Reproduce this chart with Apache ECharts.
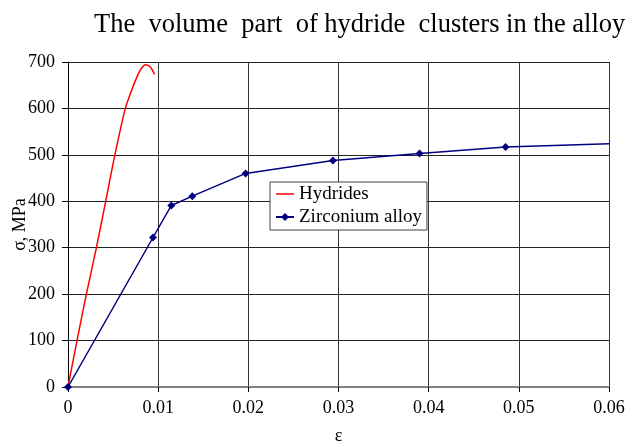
<!DOCTYPE html>
<html>
<head>
<meta charset="utf-8">
<script src="https://cdn.jsdelivr.net/npm/echarts@6/dist/echarts.min.js"></script>
<style>
html,body{margin:0;padding:0;background:#fff;}
#chart{width:627px;height:441px;}
</style>
</head>
<body>
<div id="chart"></div>
<script>
var titleText = "The  volume  part  of hydride  clusters in the alloy";
var xName = "\u03b5";
var yName = "\u03c3, MPa";
var seriesNames = ["Hydrides", "Zirconium alloy"];

var hydrideStrain = [0, 0.001, 0.00204, 0.00315, 0.00418, 0.0052, 0.00636, 0.00692, 0.00765, 0.00813, 0.00861, 0.00913, 0.0096];
var hydrideStress = [0, 100, 200, 300, 400, 500, 600, 632, 668, 686, 694, 689, 673];

var alloyStrain = [0, 0.00943, 0.01146, 0.01379, 0.0197, 0.02938, 0.03899, 0.04853, 0.06];
var alloyStress = [0, 322, 391, 411, 460, 488, 503, 517, 524];

var FONT = "'Liberation Serif', 'Times New Roman', serif";

function pairs(xs, ys) {
  return xs.map(function (x, i) { return [x, ys[i]]; });
}

var alloyData = pairs(alloyStrain, alloyStress).map(function (p, i, arr) {
  if (i === arr.length - 1) return { value: p, symbol: 'none' };
  return p;
});

var chart = echarts.init(document.getElementById('chart'));
chart.setOption({
  animation: false,
  backgroundColor: '#fff',
  textStyle: { fontFamily: FONT },
  title: {
    text: titleText,
    left: 89,
    top: 7,
    textStyle: { fontFamily: FONT, fontSize: 26.5, fontWeight: 'normal', color: '#000' }
  },
  legend: {
    orient: 'vertical',
    left: 270,
    top: 182,
    padding: [2, 5, 3, 5],
    itemGap: 3,
    itemWidth: 18,
    itemHeight: 10,
    backgroundColor: '#fff',
    borderColor: '#404040',
    borderWidth: 1,
    borderRadius: 0,
    data: [
      { name: seriesNames[0], icon: 'path://M0 0H12V1H0Z' },
      { name: seriesNames[1] }
    ],
    textStyle: { fontFamily: FONT, fontSize: 19, color: '#000', lineHeight: 20 }
  },
  grid: { left: 68, right: 18, top: 62, bottom: 54, containLabel: false, outerBoundsMode: 'none' },
  xAxis: {
    type: 'value',
    min: 0,
    max: 0.06,
    interval: 0.01,
    name: xName,
    nameLocation: 'middle',
    nameGap: 40,
    nameMoveOverlap: false,
    nameTextStyle: { fontFamily: FONT, fontSize: 18, color: '#000' },
    axisLine: { show: true, onZero: false, lineStyle: { color: '#808080', width: 2 } },
    axisTick: { show: true, length: 5, lineStyle: { color: '#000' } },
    axisLabel: { fontFamily: FONT, fontSize: 18, color: '#000', margin: 12,
      formatter: function (v) { return v === 0 ? '0' : String(Math.round(v * 100) / 100); } },
    splitLine: { show: true, lineStyle: { color: '#333', width: 1 } }
  },
  yAxis: {
    type: 'value',
    min: 0,
    max: 700,
    interval: 100,
    name: yName,
    nameLocation: 'middle',
    nameGap: 39,
    nameMoveOverlap: false,
    nameTextStyle: { fontFamily: FONT, fontSize: 18, color: '#000' },
    axisLine: { show: true, lineStyle: { color: '#000', width: 1 } },
    axisTick: { show: true, length: 6, lineStyle: { color: '#000' } },
    axisLabel: { fontFamily: FONT, fontSize: 18, color: '#000', margin: 13 },
    splitLine: { show: true, lineStyle: { color: '#222', width: 1 } }
  },
  series: [
    {
      name: seriesNames[0],
      type: 'line',
      data: pairs(hydrideStrain, hydrideStress),
      symbol: 'none',
      smooth: 0.3,
      lineStyle: { color: '#ff0000', width: 1.5 },
      itemStyle: { color: '#ff0000' }
    },
    {
      name: seriesNames[1],
      type: 'line',
      data: alloyData,
      symbol: 'diamond',
      symbolSize: 8,
      showAllSymbol: true,
      lineStyle: { color: '#000080', width: 1.5 },
      itemStyle: { color: '#000080' }
    }
  ]
});
</script>
</body>
</html>
